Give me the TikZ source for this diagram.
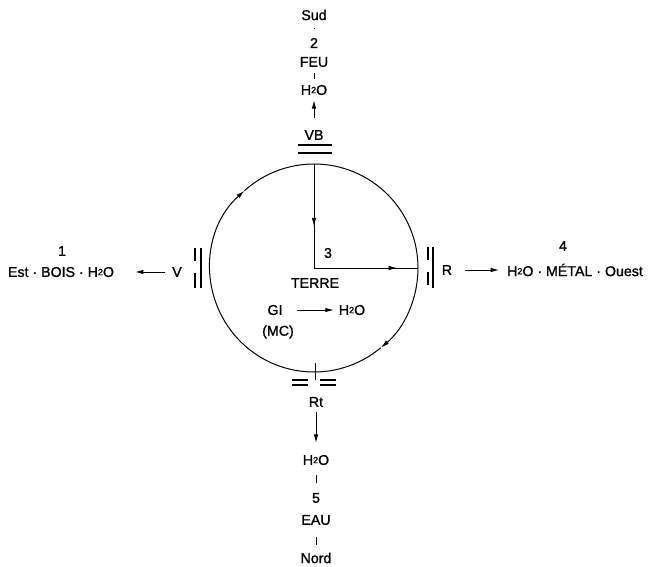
\documentclass[tikz,border=0pt]{standalone}
\usepackage{fontspec}
\setmainfont{Liberation Sans}[FakeBold=1.2]
\usetikzlibrary{arrows.meta,decorations.markings,calc}
\newcommand{\hto}{H\raisebox{0.12em}{\fontsize{9}{9}\selectfont 2}O}
\begin{document}
\begin{tikzpicture}[x=1pt,y=1pt,
  lbl/.style={font=\fontsize{14.2}{16}\selectfont, inner sep=0pt, outer sep=0pt},
  ln/.style={line width=1pt},
  barln/.style={line width=1.1pt},
  tip/.style={-{Latex[length=8.5pt,width=4.5pt]}},
  arr/.style={line width=1pt,-{Latex[length=8.5pt,width=4.5pt]}},
  tk/.style={line width=1pt},
  midarr/.style={postaction={decorate}, decoration={markings, mark=at position #1 with {\arrow{Latex[length=8.5pt,width=4.5pt]}}}}
]
\useasboundingbox (0,0) rectangle (650,566);
% centre and circle
\coordinate (O) at (314,298);
\coordinate (T) at (314,402);
\coordinate (Rc) at (418,298);
\coordinate (B) at (314,194);
\coordinate (A1) at ($(O)+(-50:104pt)$);
\coordinate (A2) at ($(O)+(132:104pt)$);
\draw[ln, tip] (T) arc[start angle=90, end angle=-50, radius=104pt];
\draw[ln, tip] (A1) arc[start angle=-50, end angle=-228, radius=104pt];
\draw[ln] (A2) arc[start angle=132, end angle=90, radius=104pt];
\draw[ln, midarr=0.6] (T) -- (O);
\draw[ln, midarr=0.8] (O) -- (Rc);
% inner labels
\node[lbl] (three) at (328,313) {3};
\node[lbl] (terre) at (315,283) {TERRE};
\node[lbl] (gi) at (275,256) {GI};
\node[lbl] (gih) at (352,256) {\hto};
\node[lbl] (mc) at (278,234) {(MC)};
\draw[arr, shorten <=15pt, shorten >=5pt] (gi) -- (gih);
% top
\draw[barln] (298,421) -- (332,421);
\draw[barln] (298,413) -- (332,413);
\node[lbl] (vb) at (314,431) {VB};
\node[lbl] (th) at (314,476) {\hto};
\node[lbl] (feu) at (314,504) {FEU};
\node[lbl] (two) at (314,523) {2};
\node[lbl] (sud) at (314,551) {Sud};
\draw[arr, shorten <=12pt, shorten >=5pt] (vb) -- (th);
\draw[tk, shorten <=6pt, shorten >=6pt] (feu) -- (th);
\draw[tk, shorten <=8pt, shorten >=10pt] (sud) -- (two);
% left
\draw[barln] (195,318) -- (195,305);
\draw[barln] (195,293) -- (195,278);
\draw[barln] (201,318) -- (201,278);
\node[lbl] (v) at (177,294) {V};
\node[lbl] (est) at (61,294) {Est · BOIS · \hto};
\node[lbl] (one) at (62,315) {1};
\draw[arr, shorten <=7pt, shorten >=21pt] (v) -- (est);
% right
\draw[barln] (428,319) -- (428,306);
\draw[barln] (428,294) -- (428,281);
\draw[barln] (433,319) -- (433,278);
\node[lbl] (r) at (447,296) {R};
\node[lbl] (ouest) at (575,296) {\hto{} · MÉTAL · Ouest};
\node[lbl] (four) at (563,320) {4};
\draw[arr, shorten <=13pt, shorten >=8pt] (r) -- (ouest);
% bottom
\draw[tk] (315,203) -- (315,186);
\draw[barln] (292,186) -- (308,186);
\draw[barln] (292,181) -- (308,181);
\draw[barln] (320,186) -- (336,186);
\draw[barln] (320,181) -- (336,181);
\node[lbl] (rt) at (316,164) {Rt};
\node[lbl] (bh) at (316,106) {\hto};
\node[lbl] (five) at (316,68) {5};
\node[lbl] (eau) at (316,46) {EAU};
\node[lbl] (nord) at (316,8) {Nord};
\draw[arr, shorten <=5pt, shorten >=12pt] (rt) -- (bh);
\draw[tk, shorten <=10pt, shorten >=10pt] (bh) -- (five);
\draw[tk, shorten <=12pt, shorten >=8pt] (eau) -- (nord);
\end{tikzpicture}
\end{document}
